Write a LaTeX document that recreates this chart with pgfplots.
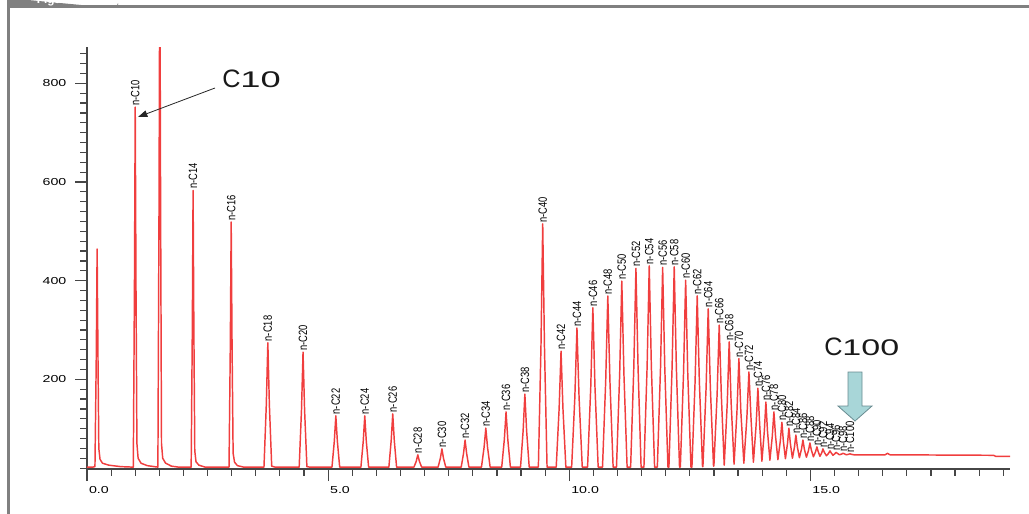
\documentclass[border=0pt]{standalone}
\usepackage{fontspec}
\setmainfont{Liberation Sans}
\usepackage{graphicx}
\usepackage{pgfplots}
\pgfplotsset{compat=1.18}
\usetikzlibrary{arrows.meta}

\definecolor{trace}{RGB}{240,62,62}
\definecolor{framegray}{RGB}{128,128,128}
\definecolor{axisgray}{RGB}{70,70,70}
\definecolor{arrowfill}{RGB}{168,214,216}
\definecolor{arrowedge}{RGB}{105,140,145}
\newcommand{\wide}[1]{\scalebox{1.4}[1]{#1}}

\begin{document}
\begin{tikzpicture}
% page frame, in pixel units measured from the top-left corner
\begin{scope}[x=0.75pt,y=-0.75pt]
  \path[use as bounding box] (0,0) rectangle (1029,514);
  \clip (0,0) rectangle (1029,514);
  \fill[framegray] (7,-2) -- (7,7) -- (118,7) -- (118,3) arc (0:90:5) -- cycle;
  \fill[framegray] (7,0) rectangle (9.5,514);
  \fill[framegray] (7,5) rectangle (1029,7.5);
  \node[anchor=base, text=white, font=\bfseries\fontsize{8.9}{9}\selectfont] at (60,3) {Figure 9};
\end{scope}

\begin{axis}[
  at={(65.25pt,-351.75pt)}, anchor=south west,
  scale only axis, width=692.25pt, height=316.5pt,
  xmin=0, xmax=19.14, ymin=18.2, ymax=873.7,
  axis x line=bottom, axis y line=left,
  axis line style={-, draw=axisgray, line width=0.9pt},
  tick align=outside, major tick length=9pt, minor tick length=5pt,
  tick style={draw=axisgray, line width=0.9pt},
  xtick={0,5,10,15},
  xticklabels={\wide{0.0},\wide{5.0},\wide{10.0},\wide{15.0}},
  minor xtick={0.5,1,...,19},
  ytick={200,400,600,800},
  yticklabels={\wide{200},\wide{400},\wide{600},\wide{800}},
  minor ytick={20,40,...,860},
  tick label style={font=\fontsize{7.6}{8}\selectfont, text=black},
  x tick label style={anchor=north west, xshift=-2pt, yshift=-0.5pt},
  y tick label style={xshift=-3pt},
  clip mode=individual,
]
% detector trace
\addplot[trace, line width=1.1pt, line join=round] coordinates {
(0,22) (0.12,22) (0.165,23)
(0.192,243) (0.21,464) (0.228,243) (0.245,60) (0.27,38) (0.32,30) (0.45,26) (0.7,23) (0.96,22)
(0.984,387) (1.0,752) (1.016,387) (1.035,70) (1.06,40) (1.12,30) (1.25,25) (1.47,22)
(1.494,560) (1.51,1100) (1.526,560) (1.545,70) (1.57,40) (1.63,30) (1.75,24) (1.9,22) (2.16,22)
(2.184,302) (2.2,583) (2.216,302) (2.235,55) (2.26,33) (2.32,26) (2.45,22) (2.945,22)
(2.972,270) (2.99,519) (3.008,270) (3.03,50) (3.06,32) (3.12,25) (3.25,22) (3.67,22)
(3.718,148) (3.75,274) (3.782,148) (3.83,24) (3.9,22) (4.40,22)
(4.448,138) (4.48,255) (4.512,138) (4.56,23) (4.62,22) (5.08,22)
(5.128,74) (5.16,126) (5.192,74) (5.24,22) (5.68,22)
(5.728,74) (5.76,126) (5.792,74) (5.84,22) (6.26,22)
(6.308,76) (6.34,130) (6.372,76) (6.42,22) (6.78,22)
(6.828,34) (6.86,47) (6.892,34) (6.94,22) (7.28,22)
(7.328,40) (7.36,59) (7.392,40) (7.44,22) (7.76,22)
(7.808,50) (7.84,77) (7.872,50) (7.92,22) (8.18,22)
(8.234,62) (8.27,101) (8.306,62) (8.36,22) (8.60,22)
(8.654,78) (8.69,134) (8.726,78) (8.78,22) (8.99,22)
(9.044,96) (9.08,170) (9.116,96) (9.17,22) (9.36,22)
(9.414,268) (9.45,515) (9.486,268) (9.54,22) (9.73,22)
(9.79,140) (9.83,257) (9.87,140) (9.93,22) (10.05,22)
(10.116,163) (10.16,304) (10.204,163) (10.27,22) (10.38,22)
(10.446,184) (10.49,345) (10.534,184) (10.60,22) (10.69,22)
(10.756,196) (10.80,369) (10.844,196) (10.91,22) (10.98,22)
(11.046,211) (11.09,399) (11.134,211) (11.20,22) (11.273,22)
(11.339,224) (11.383,425) (11.427,224) (11.49,22) (11.549,22)
(11.615,226) (11.659,430) (11.703,226) (11.77,22) (11.827,22)
(11.893,224) (11.937,427) (11.981,224) (12.047,22) (12.067,22)
(12.133,225) (12.177,428) (12.221,225) (12.287,22) (12.304,22)
(12.37,212) (12.414,401) (12.458,212) (12.524,22) (12.544,22)
(12.61,196) (12.654,369) (12.698,196) (12.764,23) (12.772,23)
(12.838,183) (12.882,343) (12.926,184) (12.992,24) (13.0,25)
(13.066,168) (13.11,310) (13.154,168) (13.214,26)
(13.277,152) (13.317,276) (13.357,153) (13.418,28)
(13.478,135) (13.518,242) (13.558,136) (13.621,30)
(13.684,123) (13.726,215) (13.768,124) (13.819,32)
(13.875,107) (13.912,182) (13.949,108) (13.995,34)
(14.045,94) (14.078,154) (14.111,95) (14.161,36)
(14.211,85) (14.244,134) (14.277,86) (14.327,37)
(14.377,75) (14.41,113) (14.439,76) (14.483,39)
(14.526,70) (14.555,101) (14.584,71) (14.628,40)
(14.671,63) (14.70,87) (14.729,64) (14.773,41)
(14.817,59) (14.846,77) (14.875,59) (14.918,42)
(14.962,56) (14.991,71) (15.02,57) (15.063,43)
(15.107,53) (15.136,63) (15.161,54) (15.198,44)
(15.236,51) (15.261,59) (15.29,52) (15.334,45)
(15.378,50) (15.407,55) (15.432,51) (15.469,46)
(15.506,49) (15.531,52) (15.56,50) (15.603,47)
(15.647,48.5) (15.676,50) (15.705,49) (15.748,47)
(15.79,48) (15.82,49) (15.85,48) (15.9,47)
(16.55,47) (16.6,50) (16.65,47) (18.8,46) (18.84,44) (19.14,44)
};
% n-alkane peak labels at the apex of each peak
\addplot[draw=none, mark=none, point meta=explicit symbolic,
  nodes near coords={\scalebox{0.78}[1]{\pgfplotspointmeta}},
  nodes near coords style={rotate=90, anchor=west, inner sep=1pt, text=black,
    font=\fontsize{9}{9}\selectfont}]
  table[meta=lab] {
x y lab
1.00 752 n-C10
2.20 583 n-C14
2.99 519 n-C16
3.75 274 n-C18
4.48 255 n-C20
5.16 126 n-C22
5.76 126 n-C24
6.34 130 n-C26
6.86 47 n-C28
7.36 59 n-C30
7.84 77 n-C32
8.27 101 n-C34
8.69 134 n-C36
9.08 170 n-C38
9.45 515 n-C40
9.83 257 n-C42
10.16 304 n-C44
10.49 345 n-C46
10.80 369 n-C48
11.09 399 n-C50
11.383 425 n-C52
11.659 430 n-C54
11.937 427 n-C56
12.177 428 n-C58
12.414 401 n-C60
12.654 369 n-C62
12.882 343 n-C64
13.110 310 n-C66
13.317 276 n-C68
13.518 242 n-C70
13.726 215 n-C72
13.912 182 n-C74
14.078 154 n-C76
14.244 134 n-C78
14.410 113 n-C80
14.555 101 n-C82
14.700 87 n-C84
14.846 77 n-C86
14.991 71 n-C88
15.136 63 n-C90
15.261 59 n-C92
15.407 55 n-C94
15.531 52 n-C96
15.676 50 n-C98
15.820 49 n-C100
};
\end{axis}

% callouts
\begin{scope}[x=0.75pt,y=-0.75pt]
  \draw[black!85, line width=0.6pt, -{Triangle[length=7pt,width=5pt]}] (215,88) -- (138,117);
  \node[anchor=base west, inner sep=0pt, text=black!90] at (222,87)
    {\fontsize{18.9}{19}\selectfont C\fontsize{17}{17}\selectfont\scalebox{1.6}[1]{10}};
  \node[anchor=base west, inner sep=0pt, text=black!90] at (824,355)
    {\fontsize{18.9}{19}\selectfont C\fontsize{17}{17}\selectfont\scalebox{1.5}[1]{100}};
  \filldraw[fill=arrowfill, draw=arrowedge, line width=0.6pt, line join=miter]
    (848,372) -- (862,372) -- (862,406) -- (872,406) -- (855,421) -- (838,406) -- (848,406) -- cycle;
\end{scope}
\end{tikzpicture}
\end{document}
